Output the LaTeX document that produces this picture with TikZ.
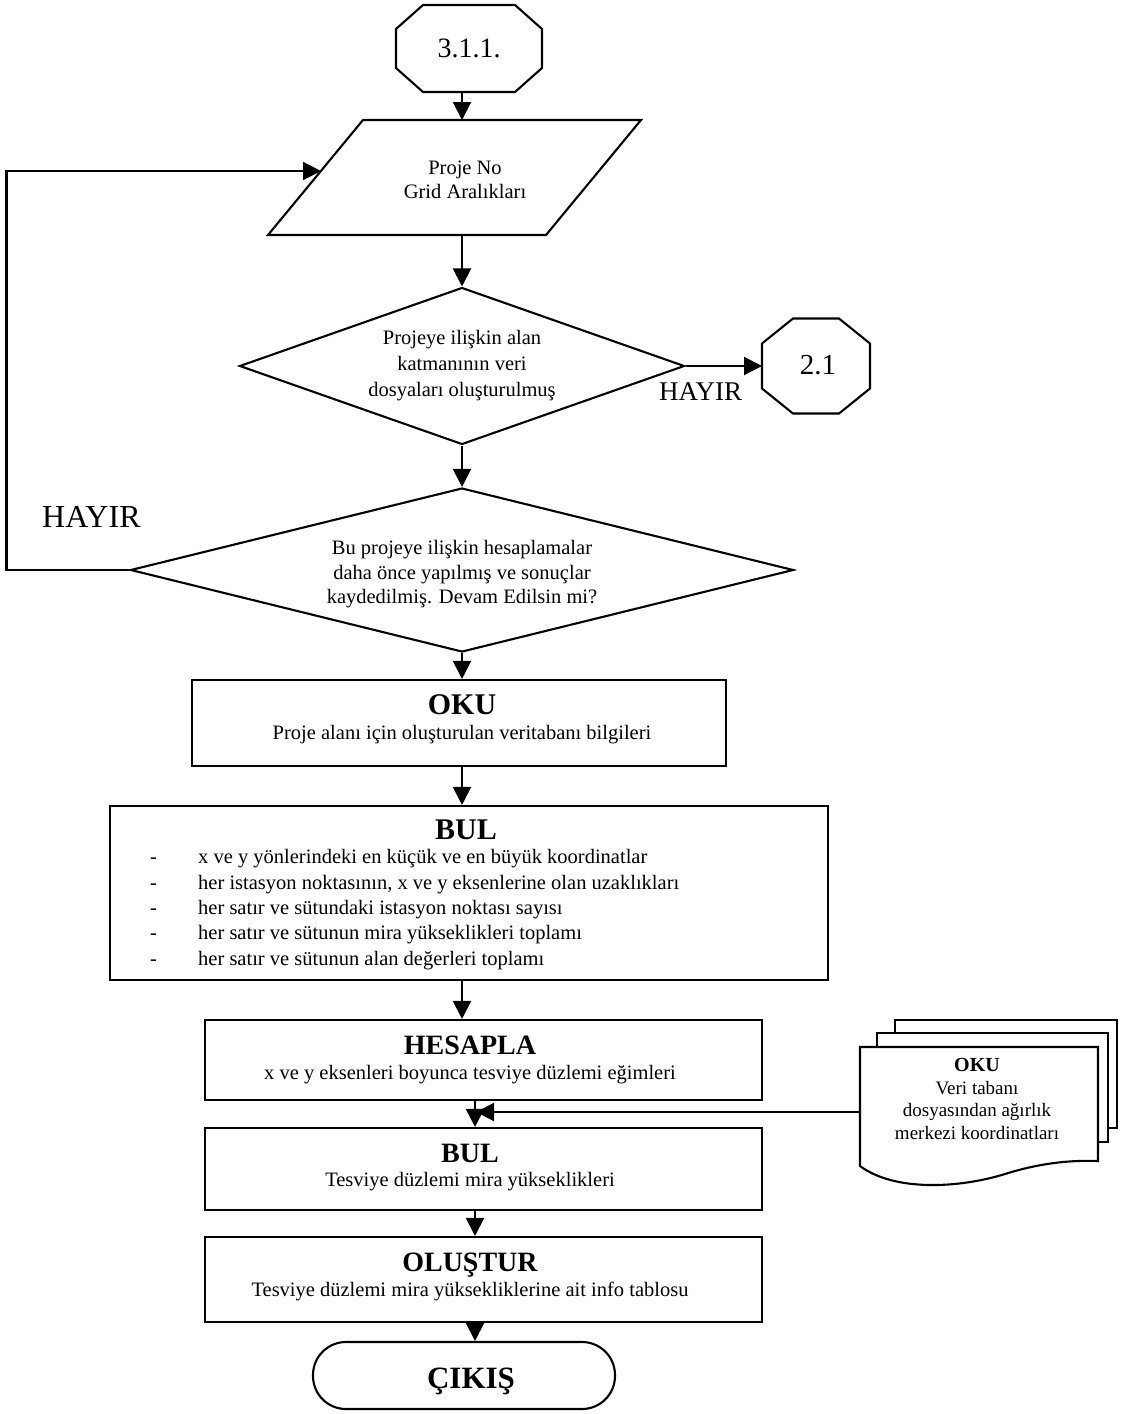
\documentclass[tikz,border=0pt]{standalone}
\usepackage{fontspec}
\setmainfont{Liberation Serif}
\usetikzlibrary{arrows.meta,calc,shapes.geometric}
\newcommand{\drawocta}[3]{\draw[ln] ($(#1.north west)+(#2,0)$) -- ($(#1.north east)+(-#2,0)$) -- ($(#1.north east)+(0,#3)$) -- ($(#1.south east)+(0,-#3)$) -- ($(#1.south east)+(-#2,0)$) -- ($(#1.south west)+(#2,0)$) -- ($(#1.south west)+(0,-#3)$) -- ($(#1.north west)+(0,#3)$) -- cycle;}
\begin{document}
\begin{tikzpicture}[x=1pt,y=-1pt,
  ln/.style={line width=2.1pt},
  arr/.style={ln,-{Triangle[length=18pt,width=18pt]}},
  procbox/.style={draw,ln,rectangle,inner sep=0pt},
  ghost/.style={draw=none,rectangle,inner sep=0pt,outer sep=0pt},
  dec/.style={draw,ln,diamond,inner sep=0pt},
  txt/.style={inner sep=0pt,anchor=base,font=\fontsize{20.5}{25}\selectfont},
  ttl/.style={inner sep=0pt,anchor=base,font=\fontsize{28}{32}\selectfont\bfseries},
  dtxt/.style={inner sep=0pt,anchor=base,font=\fontsize{19}{23}\selectfont},
  big/.style={inner sep=0pt,anchor=base,font=\fontsize{29}{33}\selectfont}]
\useasboundingbox (0,0) rectangle (1130,1414);
\fill[white] (0,0) rectangle (1130,1414);

% start connector
\node[ghost,minimum width=146pt,minimum height=87pt] (o1) at (469,48.5) {};
\drawocta{o1}{27}{24}
\node[big,font=\fontsize{28}{32}\selectfont] (o1t) at (469,57) {3.1.1.};

% input parallelogram
\node[ghost,minimum width=373pt,minimum height=115pt] (para) at (454.5,177.5) {};
\draw[ln] ($(para.north west)+(95,0)$) -- (para.north east) -- ($(para.south east)+(-95,0)$) -- (para.south west) -- cycle;
\coordinate (paraL) at (321,171);
\node[txt] (pt1) at (465,174) {Proje No};
\node[txt] (pt2) at (465,198) {Grid Aralıkları};

% decision 1
\node[dec,minimum width=445pt,minimum height=157pt] (d1) at (462,366) {};
\node[txt] (d1a) at (462,344) {Projeye ilişkin alan};
\node[txt] (d1b) at (462,370) {katmanının veri};
\node[txt] (d1c) at (462,396) {dosyaları oluşturulmuş};

% connector 2.1
\node[ghost,minimum width=108pt,minimum height=95pt] (o2) at (816,366) {};
\drawocta{o2}{31}{25}
\node[big] (o2t) at (818,374) {2.1};
\node[big,anchor=base west,font=\fontsize{27}{31}\selectfont] (h1) at (659,400) {HAYIR};

% decision 2
\node[dec,minimum width=663pt,minimum height=164pt] (d2) at (462,570) {};
\node[txt] (d2a) at (462,554) {Bu projeye ilişkin hesaplamalar};
\node[txt] (d2b) at (462,579) {daha önce yapılmış ve sonuçlar};
\node[txt] (d2c) at (462,603) {kaydedilmiş. Devam Edilsin mi?};
\node[big,anchor=base west,font=\fontsize{32}{36}\selectfont] (h2) at (42,527) {HAYIR};

% OKU
\node[procbox,minimum width=534pt,minimum height=86pt] (oku) at (459,723) {};
\node[ttl,font=\fontsize{30}{34}\selectfont\bfseries] (okut) at (462,714) {OKU};
\node[txt] (okub) at (462,739) {Proje alanı için oluşturulan veritabanı bilgileri};

% BUL
\node[procbox,minimum width=718pt,minimum height=174pt] (bul) at (469,893) {};
\node[ttl,font=\fontsize{30}{34}\selectfont\bfseries] (bult) at (466,839) {BUL};
\foreach \yy/\tx [count=\i] in {863/x ve y yönlerindeki en küçük ve en büyük koordinatlar,
  889/{her istasyon noktasının, x ve y eksenlerine olan uzaklıkları},
  914/her satır ve sütundaki istasyon noktası sayısı,
  939/her satır ve sütunun mira yükseklikleri toplamı,
  965/her satır ve sütunun alan değerleri toplamı}{
  \node[txt,anchor=base west] (bd\i) at (150,\yy) {-};
  \node[txt,anchor=base west] (bl\i) at (198,\yy) {\tx};
}

% HESAPLA
\node[procbox,minimum width=557pt,minimum height=80pt] (hes) at (483.5,1060) {};
\node[ttl] (hest) at (470,1054) {HESAPLA};
\node[txt] (hesb) at (470,1079) {x ve y eksenleri boyunca tesviye düzlemi eğimleri};

% BUL 2
\node[procbox,minimum width=557pt,minimum height=82pt] (bul2) at (483.5,1169) {};
\node[ttl] (bul2t) at (470,1162) {BUL};
\node[txt] (bul2b) at (470,1186) {Tesviye düzlemi mira yükseklikleri};

% OLUSTUR
\node[procbox,minimum width=557pt,minimum height=85pt] (ole) at (483.5,1279.5) {};
\node[ttl] (olet) at (470,1271) {OLUŞTUR};
\node[txt] (oleb) at (470,1296) {Tesviye düzlemi mira yüksekliklerine ait info tablosu};

% exit
\node[draw,ln,rectangle,rounded corners=33pt,minimum width=302pt,minimum height=67pt] (exit) at (464,1375.5) {};
\node[ttl,font=\fontsize{31}{35}\selectfont\bfseries] (exitt) at (471,1388) {ÇIKIŞ};

% multi-document
\node[ghost,minimum width=238pt,minimum height=118pt] (doc) at (979,1106) {};
\draw[ln] (895,1033) -- (895,1020) -- (1117,1020) -- (1117,1128) -- (1108,1128);
\draw[ln] (877,1047) -- (877,1033) -- (1108,1033) -- (1108,1142) -- (1098,1142);
\draw[ln,fill=white] (doc.north west) -- (doc.north east) -- (1098,1161)
  .. controls (1070,1160) and (1040,1163) .. (1005,1174)
  .. controls (960,1188) and (895,1192) .. (860,1166) -- cycle;
\node[dtxt,font=\fontsize{20}{24}\selectfont\bfseries] (dct) at (977,1071) {OKU};
\node[dtxt] (dc1) at (977,1094) {Veri tabanı};
\node[dtxt] (dc2) at (977,1116) {dosyasından ağırlık};
\node[dtxt] (dc3) at (977,1139) {merkezi koordinatları};
\coordinate (docin) at (860,1112);
\coordinate (join) at (476,1112);

% axes
\coordinate (ax) at (462,0);
\coordinate (bx) at (475,0);

% connectors
\draw[arr] (o1.south -| ax) -- (para.north -| ax);
\draw[arr] (d1.north |- para.south) -- (d1.north);
\draw[arr] (d1.east) -- (o2.west);
\draw[arr] (d1.south) -- (d2.north);
\draw[arr] (d2.west) -- ++(-123,0) |- (paraL);
\draw[arr] (d2.south) -- (d2.south |- oku.north);
\draw[arr] (oku.south -| ax) -- (bul.north -| ax);
\draw[arr] (bul.south -| ax) -- (hes.north -| ax);
\draw[arr] (hes.south -| bx) -- (bul2.north -| bx);
\draw[arr] (docin) -- (join);
\draw[arr] (bul2.south -| bx) -- (ole.north -| bx);
\draw[arr] (ole.south -| bx) -- (exit.north -| bx);
\end{tikzpicture}
\end{document}
